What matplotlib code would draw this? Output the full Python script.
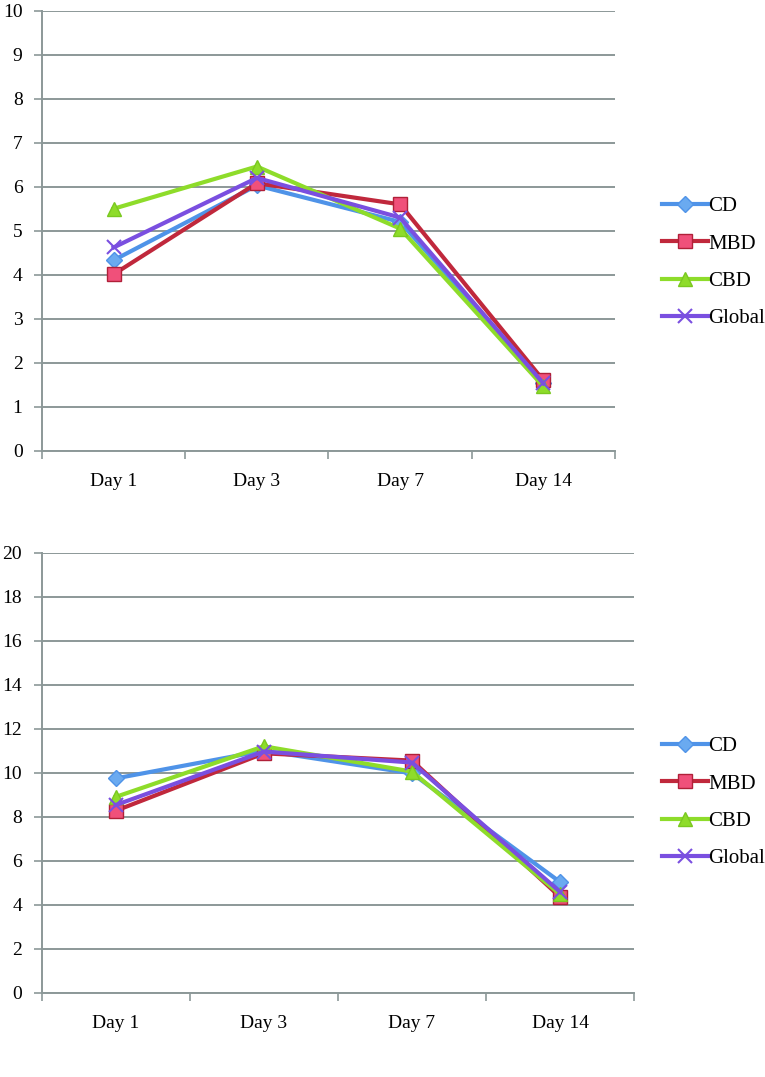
import numpy as np
import matplotlib.pyplot as plt

days = ['Day 1', 'Day 3', 'Day 7', 'Day 14']
series = ['CD', 'MBD', 'CBD', 'Global']

# top panel
cd_top = [4.33, 6.03, 5.2, 1.53]
mbd_top = [4.01, 6.08, 5.6, 1.6]
cbd_top = [5.5, 6.46, 5.05, 1.46]
glob_top = [4.62, 6.2, 5.3, 1.53]

# bottom panel
cd_bot = [9.74, 11.0, 9.97, 5.03]
mbd_bot = [8.27, 10.88, 10.55, 4.35]
cbd_bot = [8.9, 11.2, 10.05, 4.47]
glob_bot = [8.53, 10.96, 10.46, 4.58]

grid_col = '#8c9898'
styles = {
    'CD': dict(color='#4f93e8', marker='D', ms=8, mfc='#6aaaf0', mec='#4f93e8'),
    'MBD': dict(color='#c0283c', marker='s', ms=10, mfc='#f0507a', mec='#b02038'),
    'CBD': dict(color='#8edc2a', marker='^', ms=10, mfc='#8edc2a', mec='#7ac820'),
    'Global': dict(color='#7a4fe0', marker='x', ms=10, mew=1.5, mec='#7a4fe0'),
}

plt.rcParams['font.family'] = ['Liberation Serif', 'DejaVu Serif']

fig = plt.figure(figsize=(7.65, 10.77), dpi=100)

def panel(rect, data, ymax, ystep, leg_anchor):
    ax = fig.add_axes(rect)
    x = np.arange(len(days))
    for name, vals in zip(series, data):
        ax.plot(x, vals, lw=3, label=name, zorder=3, **styles[name])
    ax.set_xlim(-0.5, len(days) - 0.5)
    ax.set_ylim(0, ymax)
    ax.set_yticks(np.arange(0, ymax + 0.1, ystep))
    ax.set_xticks(x)
    ax.set_xticklabels(days, fontsize=14)
    ax.set_xticks(np.arange(-0.5, len(days), 1), minor=True)
    ax.tick_params(axis='x', which='major', length=0, pad=16)
    ax.tick_params(axis='x', which='minor', length=6, direction='out', color=grid_col, width=1.2)
    ax.tick_params(axis='y', length=6, color=grid_col, width=1.2, labelsize=14, pad=8)
    ax.yaxis.grid(True, color=grid_col, lw=1.4, zorder=0)
    ax.set_axisbelow(True)
    for s in ['top', 'right']:
        ax.spines[s].set_visible(False)
    for s in ['left', 'bottom']:
        ax.spines[s].set_color(grid_col)
        ax.spines[s].set_linewidth(1.4)
    ax.legend(loc='upper left', bbox_to_anchor=leg_anchor, bbox_transform=fig.transFigure,
              frameon=False, fontsize=15, handlelength=2.2, handletextpad=0.0,
              labelspacing=0.85, borderaxespad=0)
    return ax

panel([0.0549, 0.5815, 0.749, 0.4085], [cd_top, mbd_top, cbd_top, glob_top], 10, 1,
      (0.855, 0.825))
panel([0.0545, 0.0783, 0.7745, 0.4085], [cd_bot, mbd_bot, cbd_bot, glob_bot], 20, 2,
      (0.855, 0.3236))

fig.savefig('out.png', dpi=100)
